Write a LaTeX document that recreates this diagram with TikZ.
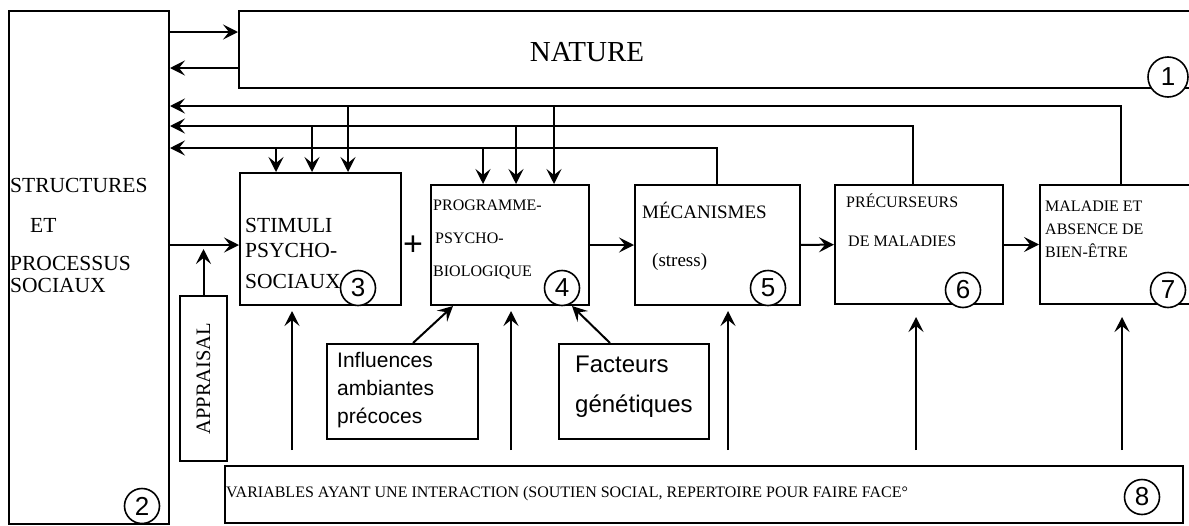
\documentclass[tikz,border=0pt]{standalone}
\usepackage{fontspec}
\setmainfont{Liberation Serif}
\newfontfamily\arial{Liberation Sans}
\usetikzlibrary{arrows.meta}

\begin{document}
\begin{tikzpicture}[
        x=1pt, y=-1pt,
        box/.style={rectangle, draw, line width=2pt, anchor=north west, inner sep=0pt},
        txt/.style={anchor=base west, inner sep=0pt, align=left},
        num/.style={circle, draw, fill=white, line width=1.6pt, inner sep=0pt, minimum size=35pt, font=\arial\fontsize{26}{26}\selectfont},
        arr/.style={-{Stealth[length=15pt, width=15pt, inset=6pt]}, line width=2pt}
    ]
        \useasboundingbox (0,0) rectangle (1189,525);
        \clip (0,0) rectangle (1189,525);

        % big boxes
        \node[box, minimum width=160pt, minimum height=513pt] (social) at (8,10) {};
        \node[box, minimum width=957pt, minimum height=77pt] (nature) at (238,10) {};
        \node[font=\fontsize{29}{29}\selectfont] (naturetxt) at (587,52) {NATURE};
        % multi-line texts are placed by the baseline of their last line
        \node[txt, font=\fontsize{21.5}{22}\selectfont] (socialtxt) at (10,292) {STRUCTURES\\[18pt]\hspace*{20pt}ET\\[16pt]PROCESSUS\\SOCIAUX};

        % chain of boxes 3 to 7
        \node[box, minimum width=161pt, minimum height=132pt] (stimuli) at (239,172) {};
        \node[box, minimum width=158pt, minimum height=120pt] (programme) at (430,184) {};
        \node[box, minimum width=165pt, minimum height=120pt] (mecanismes) at (634,184) {};
        \node[box, minimum width=168pt, minimum height=119pt] (precurseurs) at (834,184) {};
        \node[box, minimum width=160pt, minimum height=119pt] (maladie) at (1039,184) {};

        \node[txt, font=\fontsize{21.5}{25}\selectfont] (stimulitxt) at (245,288) {STIMULI\\PSYCHO-\\[6pt]SOCIAUX};
        \node[txt, font=\fontsize{16}{33}\selectfont] (programmetxt) at (433,276) {PROGRAMME-\\\hspace*{2pt}PSYCHO-\\BIOLOGIQUE};
        \node[txt, font=\fontsize{19}{48}\selectfont] (mecanismestxt) at (642,266) {MÉCANISMES\\\hspace*{10pt}(stress)};
        \node[txt, font=\fontsize{16}{39}\selectfont] (precurseurstxt) at (846,246) {PRÉCURSEURS\\\hspace*{2pt}DE MALADIES};
        \node[txt, font=\fontsize{16}{23}\selectfont] (maladietxt) at (1045,257) {MALADIE ET\\ABSENCE DE\\BIEN-ÊTRE};
        \node[font=\arial\fontsize{34}{34}\selectfont, inner sep=0pt] (plus) at (413,246) {+};

        % small boxes below
        \node[box, anchor=center, rotate=90, minimum width=165pt, minimum height=47pt, font=\fontsize{20.5}{20.5}\selectfont] (appraisal) at (203.5,378.5) {APPRAISAL};
        \node[box, minimum width=151pt, minimum height=95pt] (influences) at (326,343) {};
        \node[box, minimum width=150pt, minimum height=95pt] (genetique) at (558,343) {};
        \node[txt, font=\arial\fontsize{21}{28}\selectfont] (influencestxt) at (337,423) {Influences\\ambiantes\\précoces};
        \node[txt, font=\arial\fontsize{24}{40}\selectfont] (genetiquetxt) at (575,412) {Facteurs\\génétiques};
        \node[box, minimum width=958pt, minimum height=57pt] (variables) at (224,465) {};
        \node[txt, font=\fontsize{16}{16}\selectfont] (variablestxt) at (226,497) {VARIABLES AYANT UNE INTERACTION (SOUTIEN SOCIAL, REPERTOIRE POUR FAIRE FACE°};

        % exchanges with nature
        \draw[arr] (social.east |- 0,32) -- (nature.west |- 0,32);
        \draw[arr] (nature.west |- 0,68) -- (social.east |- 0,68);

        % feedback lines
        \coordinate (fbA) at (0,106);
        \coordinate (fbB) at (0,126);
        \coordinate (fbC) at (0,148);
        \draw[arr] (maladie.north -| 1121,0) |- (social.east |- fbA);
        \draw[arr] (precurseurs.north -| 913,0) |- (social.east |- fbB);
        \draw[arr] (mecanismes.north -| 717,0) |- (social.east |- fbC);
        \draw[arr] (fbA -| 348,0) -- (stimuli.north -| 348,0);
        \draw[arr] (fbB -| 312,0) -- (stimuli.north -| 312,0);
        \draw[arr] (fbC -| 276,0) -- (stimuli.north -| 276,0);
        \draw[arr] (fbA -| 554,0) -- (programme.north -| 554,0);
        \draw[arr] (fbB -| 516,0) -- (programme.north -| 516,0);
        \draw[arr] (fbC -| 483,0) -- (programme.north -| 483,0);

        % main chain
        \draw[arr] (social.east |- 0,245) -- (stimuli.west |- 0,245);
        \draw[arr] (appraisal.east) -- (appraisal.east |- 0,249);
        \draw[arr] (programme) -- (mecanismes);
        \draw[arr] (mecanismes) -- (precurseurs);
        \draw[arr] (precurseurs) -- (maladie);
        \draw[arr] (influences.north -| 413,0) -- (programme.south -| 453,0);
        \draw[arr] (genetique.north -| 610,0) -- (programme.south -| 572,0);

        % interacting variables
        \draw[arr, shorten <=15pt, shorten >=5pt] (variables.north -| 292,0) -- (stimuli.south -| 292,0);
        \draw[arr, shorten <=15pt, shorten >=5pt] (variables.north -| 511,0) -- (programme.south -| 511,0);
        \draw[arr, shorten <=15pt, shorten >=5pt] (variables.north -| 728,0) -- (mecanismes.south -| 728,0);
        \draw[arr, shorten <=15pt, shorten >=12pt] (variables.north -| 916,0) -- (precurseurs.south -| 916,0);
        \draw[arr, shorten <=15pt, shorten >=12pt] (variables.north -| 1122,0) -- (maladie.south -| 1122,0);

        % numbers
        \node[num, minimum size=40pt] (n1) at (1168,77) {1};
        \node[num] (n2) at (142,506) {2};
        \node[num] (n3) at (358,288) {3};
        \node[num] (n4) at (562,288) {4};
        \node[num] (n5) at (768,288) {5};
        \node[num] (n6) at (963,290) {6};
        \node[num] (n7) at (1168,290) {7};
        \node[num] (n8) at (1142,497) {8};

    \end{tikzpicture}
\end{document}
